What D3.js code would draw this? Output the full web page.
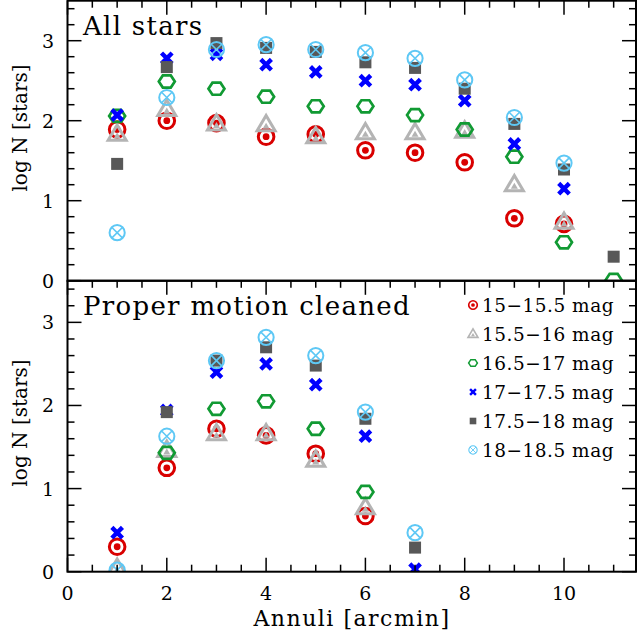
<!DOCTYPE html>
<meta charset="utf-8">
<style>
body{margin:0;background:#fff;}
text{font-family:"DejaVu Serif",serif;fill:#000;}
.frame{fill:none;stroke:#000;stroke-width:2;}
.tick{stroke:#000;stroke-width:1.5;}
</style>
<body>
<script src="https://d3js.org/d3.v7.min.js"></script>
<script>

var annuli=[1,2,3,4,5,6,7,8,9,10,11];
var series=["15-15.5 mag","15.5-16 mag","16.5-17 mag","17-17.5 mag","17.5-18 mag","18-18.5 mag"];
var symbols=["target","triangle","hexagon","cross","square","circx"];
var colors=["#d90000","#b4b4b4","#119a33","#0000ff","#585858","#5ec8f5"];

// all stars, log N per annulus (null = not plotted)
var allStars=[
  [1.89,2.00,1.97,1.80,1.83,1.63,1.60,1.48,0.78,0.71,null],
  [1.83,2.14,1.96,1.95,1.80,1.85,1.85,1.87,1.20,0.73,null],
  [2.06,2.49,2.40,2.30,2.18,2.18,2.07,1.89,1.55,0.48,0.01],
  [2.07,2.78,2.83,2.70,2.61,2.50,2.45,2.25,1.71,1.15,null],
  [1.46,2.67,2.97,2.91,2.86,2.73,2.66,2.40,1.96,1.39,0.30],
  [0.60,2.29,2.89,2.95,2.89,2.85,2.78,2.51,2.04,1.47,null]
];
// proper motion cleaned
var pmCleaned=[
  [0.30,1.25,1.72,1.64,1.42,0.67,null,null,null,null,null],
  [0.04,1.46,1.66,1.66,1.34,0.77,null,null,null,null,null],
  [null,1.43,1.96,2.05,1.72,0.96,null,null,null,null,null],
  [0.47,1.94,2.40,2.50,2.25,1.63,0.03,null,null,null,null],
  [null,1.92,2.54,2.70,2.48,1.84,0.29,null,null,null,null],
  [0.02,1.63,2.54,2.82,2.60,1.92,0.47,null,null,null,null]
];

var W=637,H=636;
var svg=d3.select("body").append("svg").attr("width",W).attr("height",H);

var x=d3.scaleLinear().domain([0,11.45]).range([67.5,636]);
var panels=[
  {name:"All stars",data:allStars,labelY:128,y:d3.scaleLinear().domain([0,3.5]).range([280.7,0.7])},
  {name:"Proper motion cleaned",data:pmCleaned,labelY:423,y:d3.scaleLinear().domain([0,3.5]).range([571.7,280.8])}
];

function drawSymbol(g,type,color,s){
  if(type=="target"){
    g.append("circle").attr("r",7.8*s).attr("fill","none").attr("stroke",color).attr("stroke-width",3*s);
    g.append("circle").attr("r",3.4*s).attr("fill",color);
  }else if(type=="triangle"){
    var t=d3.path(),a=9.3*s;
    t.moveTo(0,-a);t.lineTo(a*0.97,a*0.65);t.lineTo(-a*0.97,a*0.65);t.closePath();
    g.append("path").attr("d",t.toString()).attr("fill","none").attr("stroke",color).attr("stroke-width",3*s).attr("stroke-linejoin","miter");
    var b=3.5*s,t2=d3.path();
    t2.moveTo(0,-b+1.5*s);t2.lineTo(b,b*0.75+1.5*s);t2.lineTo(-b,b*0.75+1.5*s);t2.closePath();
    g.append("path").attr("d",t2.toString()).attr("fill",color);
  }else if(type=="hexagon"){
    var pts=d3.range(6).map(function(i){var an=i*Math.PI/3;return [8*s*Math.cos(an),7*s*Math.sin(an)];});
    g.append("polygon").attr("points",pts.map(function(p){return p.join(",");}).join(" "))
      .attr("fill","none").attr("stroke",color).attr("stroke-width",2.7*s);
  }else if(type=="cross"){
    var c=5.3*s;
    g.append("path").attr("d","M"+(-c)+","+(-c)+"L"+c+","+c+"M"+(-c)+","+c+"L"+c+","+(-c))
      .attr("stroke",color).attr("stroke-width",4.4*s);
  }else if(type=="square"){
    g.append("rect").attr("x",-6*s).attr("y",-6*s).attr("width",12*s).attr("height",12*s).attr("fill",color);
  }else if(type=="circx"){
    var r=7.6*s,k=r*0.72;
    g.append("circle").attr("r",r).attr("fill","none").attr("stroke",color).attr("stroke-width",2*s);
    g.append("path").attr("d","M"+(-k)+","+(-k)+"L"+k+","+k+"M"+(-k)+","+k+"L"+k+","+(-k))
      .attr("stroke",color).attr("stroke-width",1.6*s);
  }
}

panels.forEach(function(p,pi){
  var y=p.y,y0=y.range()[0],y1=y.range()[1],x0=x.range()[0],x1=x.range()[1];
  svg.append("clipPath").attr("id","clip"+pi).append("rect")
    .attr("x",x0).attr("y",y1).attr("width",x1-x0).attr("height",y0-y1);
  var g=svg.append("g").attr("clip-path","url(#clip"+pi+")");

  p.data.forEach(function(vals,si){
    vals.forEach(function(v,i){
      if(v==null) return;
      var m=g.append("g").attr("transform","translate("+x(annuli[i])+","+y(v)+")");
      drawSymbol(m,symbols[si],colors[si],1);
    });
  });

  // y ticks both sides
  d3.range(0,3.5001,0.2).forEach(function(v){
    var major=Math.abs(v-Math.round(v))<1e-6, len=major?14:7;
    svg.append("line").attr("class","tick").attr("x1",x0).attr("x2",x0+len).attr("y1",y(v)).attr("y2",y(v));
    svg.append("line").attr("class","tick").attr("x1",x1).attr("x2",x1-len).attr("y1",y(v)).attr("y2",y(v));
  });
  [0,1,2,3].forEach(function(v){
    svg.append("text").attr("x",54).attr("y",y(v)+7).attr("text-anchor","end").attr("font-size",19).text(v);
  });
  // x ticks on top edge, and bottom edge for lower panel
  d3.range(0,11.45,0.5).forEach(function(v){
    var major=Math.abs(v/2-Math.round(v/2))<1e-6, len=major?14:7;
    svg.append("line").attr("class","tick").attr("x1",x(v)).attr("x2",x(v)).attr("y1",y1).attr("y2",y1+len);
    if(pi==1) svg.append("line").attr("class","tick").attr("x1",x(v)).attr("x2",x(v)).attr("y1",y0).attr("y2",y0-len);
  });
  svg.append("rect").attr("class","frame").attr("x",x0).attr("y",y1).attr("width",x1-x0).attr("height",y0-y1);

  svg.append("text").attr("x",83).attr("y",y1+34.5).attr("font-size",26).attr("letter-spacing",1.3).text(p.name);
  svg.append("text").attr("transform","translate(27,"+p.labelY+") rotate(-90)")
    .attr("text-anchor","middle").attr("font-size",20).text("log N [stars]");

  if(pi==1){
    [0,2,4,6,8,10].forEach(function(v){
      svg.append("text").attr("x",x(v)).attr("y",600).attr("text-anchor","middle").attr("font-size",19).text(v);
    });
  }
});

svg.append("text").attr("x",352).attr("y",626).attr("text-anchor","middle").attr("font-size",22).attr("letter-spacing",1.5).text("Annuli [arcmin]");

// legend
series.forEach(function(name,i){
  var ly=305+i*29;
  var m=svg.append("g").attr("transform","translate(473,"+ly+")");
  drawSymbol(m,symbols[i],colors[i],0.55);
  svg.append("text").attr("x",482).attr("y",ly+7).attr("font-size",18.5).attr("letter-spacing",0.5).text(name.replace("-","\u2212"));
});

</script>
</body>
</html>
